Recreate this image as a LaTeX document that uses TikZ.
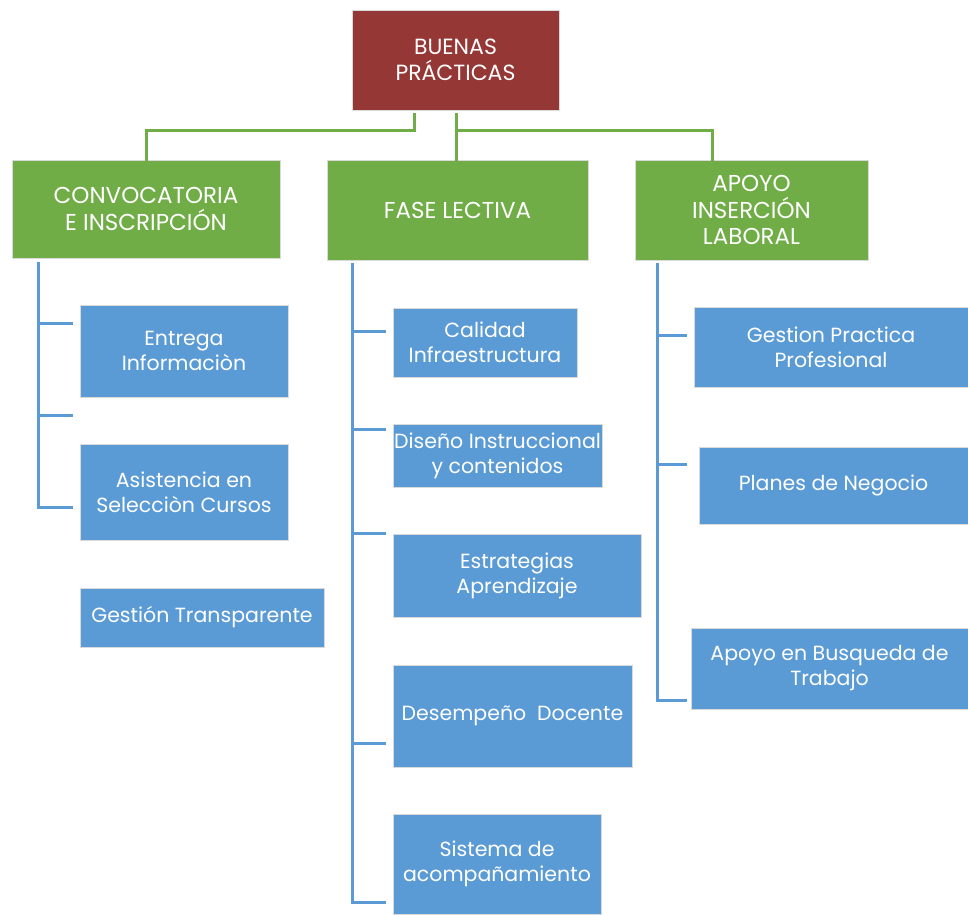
\documentclass[tikz,border=0pt]{standalone}
\usepackage{fontspec}
\setmainfont{Poppins}
\definecolor{redbox}{HTML}{953735}
\definecolor{greenbox}{HTML}{70AD47}
\definecolor{bluebox}{HTML}{5B9BD5}
\begin{document}
\begin{tikzpicture}[x=1pt,y=-1pt,
  box/.style={draw=white!85!black, line width=0.6pt, text=white, align=center, inner sep=1pt, font=\fontsize{20.5}{25}\selectfont},
  rbox/.style={box, fill=redbox, font=\fontsize{22}{26}\selectfont},
  gbox/.style={box, fill=greenbox, font=\fontsize{23}{26.5}\selectfont},
  bbox/.style={box, fill=bluebox},
  gline/.style={draw=greenbox, line width=3pt},
  bline/.style={draw=bluebox, line width=3pt}]
\useasboundingbox (0,0) rectangle (968,914);
\fill[white] (0,0) rectangle (968,914);
% nodes
\node[rbox, minimum width=207, minimum height=100] (top) at (455.5,60) {BUENAS\\PRÁCTICAS};
\node[gbox, minimum width=268, minimum height=98] (conv) at (146,209) {CONVOCATORIA\\E INSCRIPCIÓN};
\node[gbox, minimum width=261, minimum height=100] (fase) at (457.5,210) {FASE LECTIVA};
\node[gbox, minimum width=233, minimum height=100] (apoyo) at (751.5,210) {APOYO\\INSERCIÓN\\LABORAL};
\node[bbox, minimum width=208, minimum height=92] (entrega) at (184,351) {Entrega\\Informaciòn};
\node[bbox, minimum width=208, minimum height=96] (asist) at (184,492) {Asistencia en\\Selecciòn Cursos};
\node[bbox, minimum width=244, minimum height=59] (gestT) at (202,617.5) {Gestión Transparente};
\node[bbox, minimum width=184, minimum height=69] (calidad) at (485,342.5) {Calidad\\Infraestructura};
\node[bbox, minimum width=209, minimum height=63] (diseno) at (497.5,455.5) {Diseño Instruccional\\y contenidos};
\node[bbox, minimum width=248, minimum height=83] (estrat) at (517,575.5) {Estrategias\\Aprendizaje};
\node[bbox, minimum width=239, minimum height=102] (desemp) at (512.5,716) {Desempeño~~Docente};
\node[bbox, minimum width=208, minimum height=100] (sistema) at (497,864) {Sistema de\\acompañamiento};
\node[bbox, minimum width=274, minimum height=80] (gestP) at (831,347) {Gestion Practica\\Profesional};
\node[bbox, minimum width=269, minimum height=77] (planes) at (833.5,485.5) {Planes de Negocio};
\node[bbox, minimum width=277, minimum height=81] (apoyoB) at (829.5,668.5) {Apoyo en Busqueda de\\Trabajo};
% green connectors
\coordinate (tl) at (414,113);
\coordinate (tr) at (456,113);
\draw[gline] (tl) -- (414,130) -| ([yshift=-9]conv.north);
\draw[gline] (tr) -- (456,130) -| ([yshift=-9]apoyo.north -| 712,0);
\draw[gline] (456,130) -- ([yshift=-9]fase.north -| 456,0);
% blue connectors: convocatoria
\coordinate (c0) at (38,262);
\draw[bline] (c0) -- (38,507) -- (73,507);
\draw[bline] (38,323) -- (73,323);
\draw[bline] (38,415) -- (73,415);
% fase lectiva
\coordinate (f0) at (352,263);
\draw[bline] (f0) -- (352,902) -- (386,902);
\draw[bline] (352,331) -- (386,331);
\draw[bline] (352,429) -- (386,429);
\draw[bline] (352,533) -- (386,533);
\draw[bline] (352,743) -- (386,743);
% apoyo
\coordinate (a0) at (657,263);
\draw[bline] (a0) -- (657,700) -- (687,700);
\draw[bline] (657,335) -- (687,335);
\draw[bline] (657,464) -- (687,464);
\end{tikzpicture}
\end{document}
